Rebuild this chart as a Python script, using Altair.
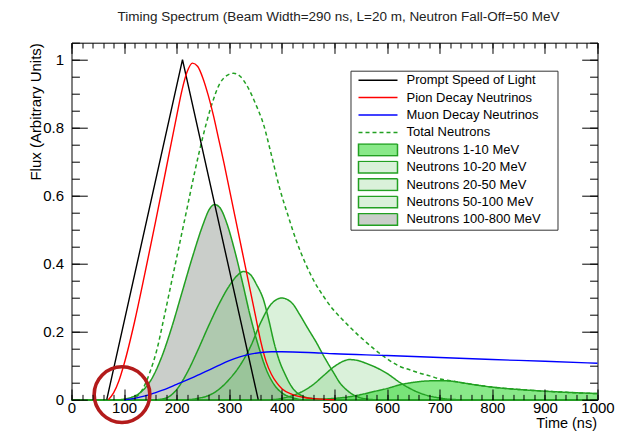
import altair as alt
import pandas as pd

# ---------------- data ----------------
names = ["Prompt Speed of Light", "Pion Decay Neutrinos", "Muon Decay Neutrinos",
         "Total Neutrons", "Neutrons 1-10 MeV", "Neutrons 10-20 MeV",
         "Neutrons 20-50 MeV", "Neutrons 50-100 MeV", "Neutrons 100-800 MeV"]

prompt_t = [67, 211, 355]
prompt_v = [0.0, 1.0, 0.0]

pion_t = [70, 80, 90, 100, 120, 140, 160, 180, 200, 210, 220, 230, 240, 250, 260,
          270, 280, 290, 300, 310, 320, 330, 340, 350, 360, 370, 380, 390, 400,
          420, 440, 460, 480, 500]
pion_v = [0.0, 0.02, 0.055, 0.105, 0.23, 0.375, 0.525, 0.68, 0.835, 0.91, 0.965,
          0.99, 0.98, 0.945, 0.895, 0.835, 0.765, 0.695, 0.62, 0.545, 0.47, 0.395,
          0.32, 0.245, 0.17, 0.112, 0.075, 0.05, 0.032, 0.015, 0.007, 0.003, 0.001, 0.0]

muon_t = [100, 120, 140, 160, 180, 200, 220, 240, 260, 280, 300, 320, 340, 360,
          380, 400, 450, 500, 600, 700, 800, 900, 1000]
muon_v = [0.0, 0.004, 0.011, 0.021, 0.032, 0.045, 0.058, 0.072, 0.086, 0.101,
          0.115, 0.126, 0.134, 0.139, 0.141, 0.141, 0.139, 0.135, 0.13, 0.124,
          0.118, 0.113, 0.107]

total_t = [110, 120, 135, 150, 162, 175, 190, 205, 220, 235, 250, 265, 282, 295,
           308, 320, 333, 350, 365, 380, 396, 412, 428, 445, 460, 480, 497, 515,
           529, 545, 561, 577, 593, 610, 624, 643, 662, 681, 700, 720, 750, 800,
           850, 900, 950, 1000]
total_v = [0.0, 0.005, 0.03, 0.085, 0.145, 0.235, 0.345, 0.455, 0.565, 0.675,
           0.775, 0.86, 0.93, 0.953, 0.96, 0.952, 0.925, 0.87, 0.81, 0.72, 0.62,
           0.54, 0.465, 0.40, 0.352, 0.302, 0.266, 0.236, 0.214, 0.19, 0.168,
           0.147, 0.128, 0.11, 0.098, 0.088, 0.078, 0.07, 0.061, 0.056, 0.048,
           0.037, 0.03, 0.025, 0.021, 0.018]

n1_t = [0, 440, 460, 480, 500, 525, 550, 575, 600, 625, 650, 675, 700, 725, 750,
        775, 800, 850, 900, 950, 1000]
n1_v = [0.0, 0.0, 0.001, 0.002, 0.004, 0.008, 0.015, 0.024, 0.033, 0.044, 0.051,
        0.055, 0.056, 0.054, 0.048, 0.042, 0.037, 0.03, 0.025, 0.021, 0.018]

n2_t = [0, 380, 400, 420, 440, 460, 480, 500, 515, 528, 545, 560, 580, 600, 624,
        640, 660, 680, 700, 720, 740, 1000]
n2_v = [0.0, 0.0, 0.004, 0.012, 0.025, 0.045, 0.072, 0.098, 0.112, 0.118, 0.115,
        0.107, 0.094, 0.077, 0.051, 0.036, 0.021, 0.011, 0.005, 0.001, 0.0, 0.0]

n3_t = [0, 220, 240, 260, 280, 300, 320, 340, 360, 380, 400, 420, 434, 450, 466,
        480, 491, 500, 510, 520, 530, 545, 560, 580, 1000]
n3_v = [0.0, 0.0, 0.004, 0.012, 0.03, 0.06, 0.1, 0.155, 0.228, 0.282, 0.299,
        0.283, 0.25, 0.208, 0.167, 0.127, 0.098, 0.075, 0.05, 0.033, 0.02, 0.008,
        0.002, 0.0, 0.0]

n4_t = [0, 160, 180, 200, 220, 240, 260, 280, 300, 315, 327, 340, 352, 365, 375,
        385, 395, 405, 420, 440, 460, 480, 1000]
n4_v = [0.0, 0.0, 0.005, 0.03, 0.08, 0.145, 0.215, 0.28, 0.335, 0.365, 0.377,
        0.368, 0.338, 0.294, 0.235, 0.168, 0.115, 0.078, 0.035, 0.01, 0.003, 0.0, 0.0]

n5_t = [0, 90, 110, 130, 150, 170, 190, 210, 230, 250, 262, 272, 282, 295, 310,
        325, 340, 355, 370, 385, 400, 420, 440, 1000]
n5_v = [0.0, 0.0, 0.005, 0.02, 0.055, 0.12, 0.21, 0.315, 0.42, 0.515, 0.56,
        0.574, 0.565, 0.52, 0.44, 0.345, 0.245, 0.16, 0.09, 0.045, 0.02, 0.006,
        0.0, 0.0]

# annotation circle (centre)
ring_t = [96]
ring_v = [0.015]

x_major = [0, 100, 200, 300, 400, 500, 600, 700, 800, 900, 1000]
x_minor = list(range(0, 1001, 20))
y_major = [0, 0.2, 0.4, 0.6, 0.8, 1.0]
y_minor = [round(i * 0.05, 2) for i in range(22)]

# ---------------- styles ----------------
GREEN = "#22a022"
stroke_range = ["black", "#ff0000", "#0000ff", GREEN, GREEN, GREEN, GREEN, GREEN, GREEN]
fill_range = ["transparent"] * 4 + ["rgba(40,215,40,0.55)", "rgba(70,185,70,0.2)",
                                    "rgba(70,185,70,0.2)", "rgba(70,185,70,0.2)",
                                    "rgba(95,105,95,0.33)"]
dash_range = [[1, 0], [1, 0], [1, 0], [4, 3], [1, 0], [1, 0], [1, 0], [1, 0], [1, 0]]
shape_range = ["stroke"] * 4 + ["M-1,-0.3H1V0.3H-1Z"] * 5

W, H = 526, 357
FONT = "Liberation Sans"


def frame(name, ts, vs):
    return pd.DataFrame({"t": ts, "v": vs, "name": name})


area_df = pd.concat([frame(names[8], n5_t, n5_v), frame(names[7], n4_t, n4_v),
                     frame(names[6], n3_t, n3_v), frame(names[5], n2_t, n2_v),
                     frame(names[4], n1_t, n1_v)], ignore_index=True)
green_df = pd.concat([area_df, frame(names[3], total_t, total_v)], ignore_index=True)
black_df = frame(names[0], prompt_t, prompt_v)
rb_df = pd.concat([frame(names[1], pion_t, pion_v), frame(names[2], muon_t, muon_v)],
                  ignore_index=True)
ring_df = pd.DataFrame({"t": ring_t, "v": ring_v})

xs = alt.Scale(domain=[0, 1000], nice=False, zero=False)
ys = alt.Scale(domain=[0, 1.05], nice=False, zero=False)

legend = alt.Legend(title="\u00a0", titleOrient="right", titlePadding=14,
                    titleFontSize=13, orient="none", legendX=279, legendY=28,
                    fillColor="white", strokeColor="#333333", padding=3,
                    symbolSize=1521, symbolStrokeWidth=1.5, labelFont=FONT,
                    labelFontSize=13, labelColor="black", clipHeight=13,
                    rowPadding=3.4, labelOffset=8, symbolOffset=4)

stroke_enc = alt.Stroke("name:N", scale=alt.Scale(domain=names, range=stroke_range), legend=legend)
dash_enc = alt.StrokeDash("name:N", scale=alt.Scale(domain=names, range=dash_range), legend=legend)
fill_enc = alt.Fill("name:N", scale=alt.Scale(domain=names, range=fill_range), legend=legend)
shape_enc = alt.Shape("name:N", scale=alt.Scale(domain=names, range=shape_range), legend=legend)


def tick_axis(orient, values, size, offset):
    return alt.Axis(orient=orient, values=values, tickSize=size, offset=offset,
                    labels=False, domain=False, grid=False, title=None, ticks=True,
                    tickColor="black", tickWidth=1, zindex=1)


x_label_axis = alt.Axis(orient="bottom", values=x_major, ticks=False, tickSize=0,
                        domain=False, grid=False, labelFont=FONT, labelFontSize=15,
                        labelColor="black", labelPadding=1, format="d",
                        labelFlush=False, labelOverlap=False,
                        title="Time (ns)", titleFont=FONT, titleFontSize=14.5,
                        titleFontWeight="normal", titleColor="black",
                        titleX=W - 1, titleY=24.3, titleAlign="right", titleBaseline="middle")
y_label_axis = alt.Axis(orient="left", values=y_major, ticks=False, tickSize=0,
                        domain=False, grid=False, labelFont=FONT, labelFontSize=15,
                        labelColor="black", labelPadding=8, format="~g",
                        labelFlush=False, labelOverlap=False,
                        title="Flux (Arbitrary Units)", titleFont=FONT,
                        titleFontSize=15, titleFontWeight="normal", titleColor="black",
                        titleX=-36, titleY=0, titleAngle=270, titleAlign="right",
                        titleBaseline="middle")

areas = alt.Chart(area_df).mark_area(interpolate="monotone", opacity=1).encode(
    x=alt.X("t:Q", scale=xs, axis=x_label_axis),
    y=alt.Y("v:Q", scale=ys, axis=y_label_axis, stack=None),
    fill=fill_enc,
)

green_lines = alt.Chart(green_df).mark_line(interpolate="monotone", strokeWidth=1.5).encode(
    x=alt.X("t:Q", scale=xs, axis=tick_axis("top", x_major, 10.7, -H)),
    y=alt.Y("v:Q", scale=ys, axis=tick_axis("right", y_major, 15.8, -W)),
    stroke=stroke_enc, strokeDash=dash_enc, detail="name:N",
)

black_line = alt.Chart(black_df).mark_line(interpolate="linear", strokeWidth=1.4).encode(
    x=alt.X("t:Q", scale=xs, axis=tick_axis("bottom", x_major, 10.7, -H)),
    y=alt.Y("v:Q", scale=ys, axis=tick_axis("left", y_major, 15.8, -W)),
    stroke=stroke_enc,
)

rb_lines = alt.Chart(rb_df).mark_line(interpolate="monotone", strokeWidth=1.4).encode(
    x=alt.X("t:Q", scale=xs, axis=tick_axis("top", x_minor, 5.3, -H)),
    y=alt.Y("v:Q", scale=ys, axis=tick_axis("right", y_minor, 7.9, -W)),
    stroke=stroke_enc, detail="name:N",
)

ring = alt.Chart(ring_df).mark_point(shape="circle", filled=False, size=3100,
                                     stroke="#b31b1b", strokeWidth=3.6, opacity=1).encode(
    x=alt.X("t:Q", scale=xs, axis=tick_axis("bottom", x_minor, 5.3, -H)),
    y=alt.Y("v:Q", scale=ys, axis=tick_axis("left", y_minor, 7.9, -W)),
)

shapes = alt.Chart(alt.Data(values=[])).mark_point().encode(
    x=alt.X("t:Q", scale=xs, axis=None),
    y=alt.Y("v:Q", scale=ys, axis=None),
    shape=shape_enc,
)

chart = alt.layer(areas, green_lines, black_line, rb_lines, ring, shapes).resolve_axis(
    x="independent", y="independent"
).properties(
    width=W, height=H,
    title=alt.TitleParams("Timing Spectrum (Beam Width=290 ns, L=20 m, Neutron Fall-Off=50 MeV",
                          font=FONT, fontSize=13.5, fontWeight="normal", color="#222222",
                          anchor="middle", dx=4, offset=8, baseline="alphabetic"),
    padding={"left": 63.5, "top": 34.7, "right": 20, "bottom": 32},
    autosize=alt.AutoSizeParams(type="none"),
).configure_view(stroke="black", strokeWidth=1)

chart.save("out.html", embed_options={"renderer": "svg", "actions": False})
